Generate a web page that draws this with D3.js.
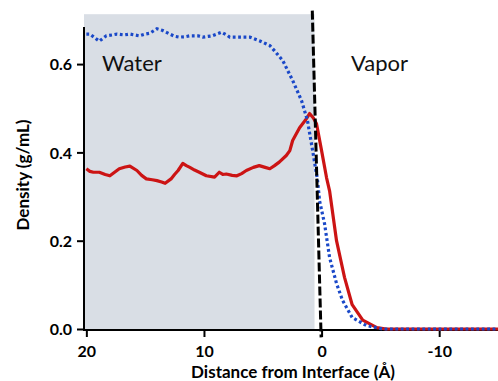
<!DOCTYPE html>
<html>
<head>
<meta charset="utf-8">
<script src="https://cdn.jsdelivr.net/npm/d3@7"></script>
<style>
  body { margin: 0; background: #fff; }
  svg { display: block; }
</style>
</head>
<body>
<div id="chart-container"></div>
<script>
const width = 498;
const height = 381;

// water (dotted blue) density profile, distance in Å
const waterX = [20.0, 19.7, 19.3, 18.9, 18.6, 18.3, 17.8, 17.4, 16.8, 16.3, 15.9, 15.5, 15.0, 14.6, 14.0, 13.5,
  12.9, 12.5, 12.1, 11.6, 11.2, 10.5, 10.1, 9.3, 8.5, 8.0, 7.8, 7.0, 6.1, 5.3, 4.4, 4.0, 3.3, 2.46, 1.7, 1.2,
  0.76, 0.34, 0.17, -0.25, -0.68, -1.27, -1.78, -2.6, -3.8, -5.2, -15];
const waterY = [0.668, 0.668, 0.660, 0.652, 0.658, 0.664, 0.666, 0.668, 0.666, 0.668, 0.666, 0.664, 0.668, 0.670, 0.680, 0.676,
  0.668, 0.663, 0.661, 0.662, 0.664, 0.664, 0.661, 0.664, 0.672, 0.665, 0.661, 0.661, 0.661, 0.653, 0.642, 0.630, 0.608, 0.563, 0.517, 0.472,
  0.404, 0.336, 0.290, 0.239, 0.162, 0.103, 0.065, 0.026, 0.008, 0.0, 0.0];

// solute (solid red) density profile
const soluteX = [20.0, 19.7, 19.4, 18.9, 18.4, 18.0, 17.6, 17.2, 16.7, 16.3, 15.7, 15.3, 14.9, 14.4, 14.0, 13.6, 13.3,
  12.8, 12.5, 12.2, 11.8, 11.5, 11.2, 10.8, 10.4, 9.8, 9.1, 8.7, 8.4, 8.1, 7.6, 7.2, 6.8, 6.4, 5.8, 5.3, 4.8, 4.4,
  4.0, 3.6, 3.0, 2.7, 2.46, 1.87, 1.4, 1.02, 0.7, 0.43, 0.0, -0.42, -0.68, -1.27, -1.95, -2.6, -3.5, -4.7, -5.5, -15];
const soluteY = [0.363, 0.357, 0.355, 0.355, 0.350, 0.347, 0.355, 0.363, 0.367, 0.369, 0.359, 0.348, 0.340, 0.338, 0.336, 0.333, 0.330,
  0.340, 0.350, 0.359, 0.375, 0.370, 0.366, 0.360, 0.355, 0.347, 0.344, 0.355, 0.350, 0.351, 0.348, 0.347, 0.352, 0.359, 0.366, 0.370, 0.366, 0.363,
  0.370, 0.378, 0.393, 0.404, 0.427, 0.456, 0.472, 0.488, 0.478, 0.465, 0.404, 0.343, 0.313, 0.200, 0.117, 0.055, 0.020, 0.003, 0.0, 0.0];

const xTicks = [20, 10, 0, -10];
const yTicks = [0.0, 0.2, 0.4, 0.6];
const regionLabels = ["Water", "Vapor"];

// gray water region and slanted interface marker, in data units
const waterRegion = { x0: 20.2, x1: 0.6, top: 0.713 };
const interfaceLine = [[0.79, 0.721], [0.04, -0.019]];

const x = d3.scaleLinear().domain([20.2, -15]).range([84, width]);
const y = d3.scaleLinear().domain([0, 0.684]).range([329, 27]);

const svg = d3.select("#chart-container").append("svg")
  .attr("width", width)
  .attr("height", height);

const font = "Lato, 'DejaVu Sans', sans-serif";

// shaded water side
svg.append("rect")
  .attr("x", x(waterRegion.x0))
  .attr("y", y(waterRegion.top))
  .attr("width", x(waterRegion.x1) - x(waterRegion.x0))
  .attr("height", y(0) + 1 - y(waterRegion.top))
  .attr("fill", "#d9dee5");

// axes
const xAxis = svg.append("g")
  .attr("transform", `translate(0,${y(0) + 1})`)
  .call(d3.axisBottom(x).tickValues(xTicks).tickSize(7).tickSizeOuter(0).tickFormat(d => String(d)));
xAxis.select(".domain").remove();
xAxis.selectAll(".tick line").attr("stroke", "#000").attr("stroke-width", 2);
xAxis.selectAll(".tick text")
  .attr("y", 27).attr("dy", 0)
  .attr("fill", "#000")
  .style("font", `bold 16px ${font}`);

const yAxis = svg.append("g")
  .attr("transform", `translate(${x(20.2)},0)`)
  .call(d3.axisLeft(y).tickValues(yTicks).tickSize(7).tickSizeOuter(0).tickFormat(d3.format(".1f")));
yAxis.select(".domain").remove();
yAxis.selectAll(".tick line").attr("stroke", "#000").attr("stroke-width", 2);
yAxis.selectAll(".tick text")
  .attr("x", -12).attr("dy", "0.36em")
  .attr("fill", "#000")
  .style("font", `bold 16px ${font}`);

svg.append("line")
  .attr("x1", x(20.2)).attr("x2", x(20.2))
  .attr("y1", y(0.684)).attr("y2", y(0) + 2)
  .attr("stroke", "#000").attr("stroke-width", 2);
svg.append("line")
  .attr("x1", x(20.2)).attr("x2", width)
  .attr("y1", y(0) + 1).attr("y2", y(0) + 1)
  .attr("stroke", "#000").attr("stroke-width", 2);

// curves
const soluteData = soluteX.map((d, i) => [d, soluteY[i]]);
const waterData = waterX.map((d, i) => [d, waterY[i]]);
const line = d3.line().x(d => x(d[0])).y(d => y(d[1]));

svg.append("path")
  .datum(soluteData)
  .attr("d", line)
  .attr("fill", "none")
  .attr("stroke", "#cc1414")
  .attr("stroke-width", 3.2)
  .attr("stroke-linejoin", "round");

svg.append("path")
  .datum(waterData)
  .attr("d", line)
  .attr("fill", "none")
  .attr("stroke", "#1a48c8")
  .attr("stroke-width", 3.2)
  .attr("stroke-dasharray", "2.8,2.6");

svg.append("path")
  .datum(interfaceLine)
  .attr("d", line)
  .attr("fill", "none")
  .attr("stroke", "#000")
  .attr("stroke-width", 3)
  .attr("stroke-dasharray", "9,3");

// region labels
svg.append("text")
  .attr("x", 102).attr("y", 71)
  .style("font", `22px ${font}`)
  .attr("fill", "#111")
  .text(regionLabels[0]);
svg.append("text")
  .attr("x", 351).attr("y", 71)
  .style("font", `22px ${font}`)
  .attr("fill", "#111")
  .text(regionLabels[1]);

// axis titles
svg.append("text")
  .attr("x", 293).attr("y", 378)
  .attr("text-anchor", "middle")
  .style("font", `bold 17px ${font}`)
  .text("Distance from Interface (Å)");

svg.append("text")
  .attr("transform", "translate(29,175) rotate(-90)")
  .attr("text-anchor", "middle")
  .style("font", `bold 17px ${font}`)
  .text("Density (g/mL)");
</script>
</body>
</html>
